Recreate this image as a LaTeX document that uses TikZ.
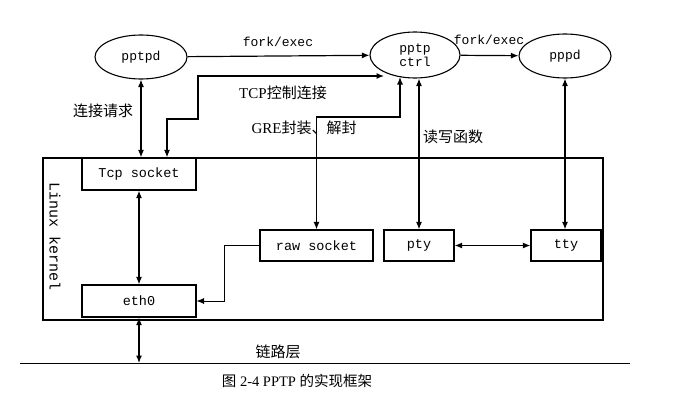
\documentclass[tikz,border=0pt]{standalone}
\usepackage{fontspec}
\setmainfont{Liberation Serif}
\setmonofont{Liberation Mono}
\newfontfamily\cjk{Noto Sans CJK SC}
\usetikzlibrary{shapes.geometric,arrows.meta}
\tikzset{
  proc/.style={draw,ellipse,line width=1.1pt,minimum width=92pt,minimum height=44pt,inner sep=0pt,font=\ttfamily\fontsize{13}{14.5}\selectfont,align=center},
  box/.style={draw,rectangle,line width=1.2pt,inner sep=0pt,font=\ttfamily\fontsize{13.5}{15}\selectfont},
  conn/.style={line width=1.2pt},
  tip/.tip={Latex[length=7.5pt,width=6pt]},
  lbl/.style={font=\fontsize{15}{17}\selectfont,inner sep=1pt},
}
\begin{document}
\begin{tikzpicture}[x=1pt,y=-1pt]
\useasboundingbox (0,0) rectangle (676,412);
% kernel frame
\node[draw,line width=1.4pt,minimum width=560pt,minimum height=162pt,inner sep=0pt] (kernel) at (323,239) {};
\node[rotate=-90,font=\ttfamily\fontsize{15}{17}\selectfont] (lk) at (55,237) {Linux kernel};
% processes
\node[proc] (pptpd) at (141,57) {pptpd};
\node[proc,minimum width=90pt,minimum height=46pt] (ctrl) at (415,55) {pptp\\ctrl};
\node[proc] (pppd) at (565,56) {pppd};
% boxes
\node[box,minimum width=114pt,minimum height=32pt] (tcp) at (139,174) {Tcp socket};
\node[box,minimum width=114pt,minimum height=32pt] (eth) at (139,301) {eth0};
\node[box,minimum width=113pt,minimum height=31pt] (raw) at (316.5,245.5) {raw socket};
\node[box,minimum width=70pt,minimum height=31pt] (pty) at (419,245.5) {pty};
\node[box,minimum width=70pt,minimum height=31pt] (tty) at (566,245.5) {tty};
% coordinates
\coordinate (tcpin) at (384,76);
\coordinate (tcpx) at (167,0);
\coordinate (greTop) at (400,77);
\coordinate (linkL) at (20,363);
\coordinate (linkR) at (630,363);
% connectors
\draw[conn,-tip] (pptpd) -- (ctrl);
\draw[conn,-tip] (ctrl) -- (pppd);
\draw[conn,tip-tip] (pptpd.south) -- (pptpd.south |- tcp.north);
\draw[conn,tip-tip] (tcpin) -| (198,119) -| (tcpx |- tcp.north);
\draw[conn,tip-tip] (raw.north) |- (400,117) -- (greTop);
\draw[conn,tip-tip] (pty.north) -- (pty.north |- ctrl.south);
\draw[conn,tip-tip] (pppd.south) -- (pppd.south |- tty.north);
\draw[conn,tip-tip] (pty.east) -- (tty.west);
\draw[conn,tip-tip] (tcp.south) -- (eth.north);
\draw[line width=0.7pt,-tip] (raw.west) -- ++(-35,0) |- (eth.east);
\draw[line width=0.9pt] (linkL) -- (linkR);
\draw[conn,tip-tip] (eth.south) -- (eth.south |- linkL);
% labels
\node[lbl,font=\ttfamily\fontsize{13}{15}\selectfont] (fe1) at (278,42) {fork/exec};
\node[lbl,font=\ttfamily\fontsize{13}{15}\selectfont] (fe2) at (489,40) {fork/exec};
\node[lbl] (req) at (103,111) {\cjk 连接请求};
\node[lbl] (tcpl) at (283,93) {TCP{\cjk 控制连接}};
\node[lbl] (gre) at (304,128) {GRE{\cjk 封装、解封}};
\node[lbl] (rw) at (453,137) {\cjk 读写函数};
\node[lbl] (link) at (278,352) {\cjk 链路层};
\node[lbl,font=\fontsize{14.5}{16}\selectfont] (cap) at (297,381) {{\cjk 图} 2-4 PPTP {\cjk 的实现框架}};
\end{tikzpicture}
\end{document}
